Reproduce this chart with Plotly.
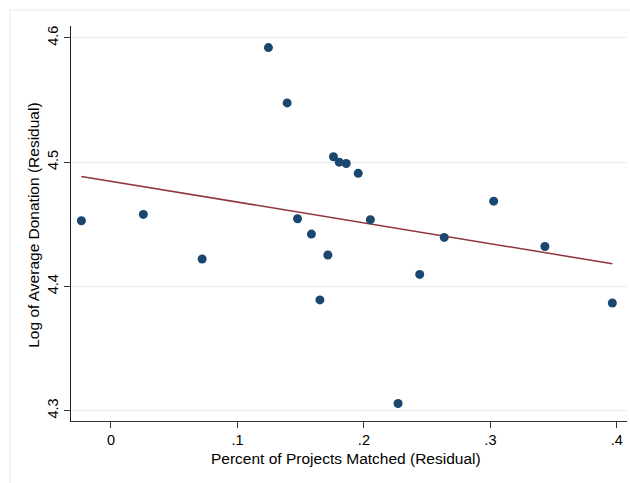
import plotly.graph_objects as go

# Binned residuals
pct_matched = [-0.0234, 0.0256, 0.0721, 0.1245, 0.1393, 0.1475, 0.1585, 0.1652,
               0.1715, 0.1759, 0.1805, 0.1860, 0.1955, 0.2051, 0.2270, 0.2441,
               0.2635, 0.3026, 0.3431, 0.3964]
log_donation = [4.4528, 4.4579, 4.4220, 4.5922, 4.5477, 4.4544, 4.4421, 4.3891,
                4.4252, 4.5043, 4.5000, 4.4989, 4.4910, 4.4537, 4.3057, 4.4096,
                4.4394, 4.4686, 4.4321, 4.3866]

# linear fit shown in the picture
fit_intercept = 4.4846
fit_slope = -0.1675

x_ticks = [0, 0.1, 0.2, 0.3, 0.4]
x_tick_labels = ["0", ".1", ".2", ".3", ".4"]
y_ticks = [4.3, 4.4, 4.5, 4.6]
y_tick_labels = ["4.3", "4.4", "4.5", "4.6"]

x_title = "Percent of Projects Matched (Residual)"
y_title = "Log of Average Donation (Residual)"

fit_x = [min(pct_matched), max(pct_matched)]
fit_y = [fit_intercept + fit_slope * v for v in fit_x]

fig = go.Figure()
fig.add_trace(go.Scatter(
    x=fit_x, y=fit_y, mode="lines",
    line=dict(color="#90353b", width=1.5),
    showlegend=False))
fig.add_trace(go.Scatter(
    x=pct_matched, y=log_donation, mode="markers",
    marker=dict(color="#1a476f", size=9, line=dict(width=0)),
    showlegend=False, hoverinfo="x+y"))

L, R, T, B = 71, 3, 26, 61.5
W, H = 630, 483
pw = W - L - R
ph = H - T - B

tick_font = dict(family="Liberation Sans, Arial, sans-serif", size=14.5, color="#000000")
title_font = dict(family="Liberation Sans, Arial, sans-serif", size=15.5, color="#000000")

fig.update_layout(
    width=W, height=H,
    margin=dict(l=L, r=R, t=T, b=B, pad=0, autoexpand=False),
    paper_bgcolor="white", plot_bgcolor="white",
    font=tick_font,
    xaxis=dict(
        range=[-0.0316, 0.408],
        tickvals=x_ticks, ticktext=x_tick_labels,
        ticks="outside", ticklen=6, tickwidth=1, tickcolor="#333333",
        showline=True, linecolor="#333333", linewidth=1,
        showgrid=False, zeroline=False, automargin=False,
        tickfont=tick_font,
    ),
    yaxis=dict(
        range=[4.2916, 4.6096],
        tickvals=y_ticks, ticktext=y_tick_labels,
        tickangle=-90,
        ticks="outside", ticklen=6, tickwidth=1, tickcolor="#333333",
        showline=True, linecolor="#222222", linewidth=1,
        showgrid=True, gridcolor="#e6eef2", gridwidth=1,
        zeroline=False, automargin=False,
        tickfont=tick_font,
    ),
    annotations=[
        dict(text=x_title, xref="paper", yref="paper",
             x=(346 - L) / pw, y=-(459 - (H - B)) / ph,
             xanchor="center", yanchor="middle", showarrow=False, font=title_font),
        dict(text=y_title, xref="paper", yref="paper",
             x=(34 - L) / pw, y=((H - B) - 226) / ph, textangle=-90,
             xanchor="center", yanchor="middle", showarrow=False, font=title_font),
    ],
    shapes=[dict(
        type="rect", xref="paper", yref="paper",
        x0=(10 - L) / pw, x1=(W + 20 - L) / pw,
        y0=(H - B - 10) / ph, y1=-(B + 20) / ph,
        line=dict(color="#e6ecee", width=1), fillcolor="rgba(0,0,0,0)",
        layer="below")],
)

fig.write_html("out.html", config={"displayModeBar": False},
               post_script="document.body.style.margin='0px';document.body.style.overflow='hidden';")
